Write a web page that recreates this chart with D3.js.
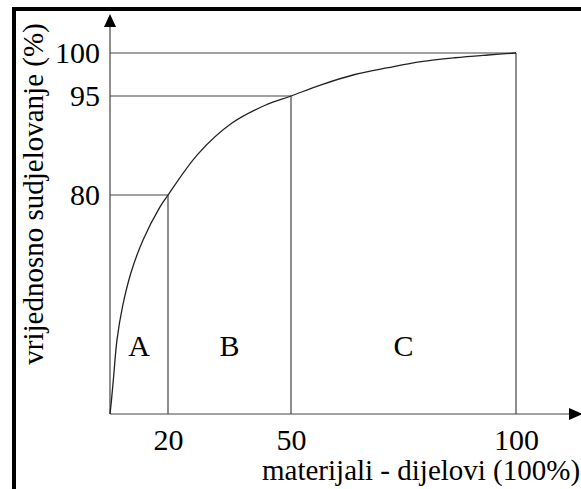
<!DOCTYPE html>
<html><head><meta charset="utf-8">
<script src="https://cdn.jsdelivr.net/npm/d3@7"></script>
<style>body{margin:0;background:#fff}svg{display:block}</style>
</head><body>
<svg id="c" width="581" height="489"></svg>
<script>
// Data
const xTicks = [20, 50, 100];
const yTicks = [80, 95, 100];
const thresholdX = [20, 50, 100];
const thresholdY = [80, 95, 100];
const regionLabels = ["A", "B", "C"];
const regionMid = [10, 35, 75];
const regionLabelY = 25;
const curveX = [0, 0.5, 1.2, 2.4, 4.3, 7.2, 11.4, 17.2, 20, 27.3, 35.6, 43.7, 50, 56.7, 64.2, 71.6, 78.9, 86.4, 93.8, 100];
const curveY = [0, 5.0, 13.0, 27.0, 39.1, 51.5, 63.6, 75.6, 80, 86.2, 90.9, 93.6, 95, 96.3, 97.5, 98.3, 99.0, 99.45, 99.77, 100];
const xTitle = "materijali - dijelovi (100%)";
const yTitle = "vrijednosno sudjelovanje (%)";

const svg = d3.select("#c");
const font = "Liberation Serif";
const lineCol = "#444";

const x = d3.scaleLinear().domain([0, 20, 50, 100]).range([110, 168, 291, 516]);
const y = d3.scaleLinear().domain([0, 80, 95, 100]).range([414, 195, 96, 53]);

// frame (top and left only)
svg.append("rect").attr("x", 12).attr("y", 7).attr("width", 569).attr("height", 4).attr("fill", "#000");
svg.append("rect").attr("x", 12).attr("y", 7).attr("width", 4).attr("height", 482).attr("fill", "#000");

// threshold lines
thresholdX.forEach((tx, i) => {
  const ty = thresholdY[i];
  svg.append("line").attr("x1", x(0)).attr("x2", x(tx)).attr("y1", y(ty)).attr("y2", y(ty))
    .attr("stroke", lineCol).attr("stroke-width", 1.2);
  svg.append("line").attr("x1", x(tx)).attr("x2", x(tx)).attr("y1", y(ty)).attr("y2", y(0))
    .attr("stroke", lineCol).attr("stroke-width", 1.2);
});

// axes lines with arrows
svg.append("line").attr("x1", x(0)).attr("x2", x(0)).attr("y1", y(0)).attr("y2", 24)
  .attr("stroke", lineCol).attr("stroke-width", 1.2);
svg.append("line").attr("x1", x(0)).attr("x2", 572).attr("y1", y(0)).attr("y2", y(0))
  .attr("stroke", lineCol).attr("stroke-width", 1.2);
svg.append("path").attr("d", `M${x(0)},14 L${x(0) - 6},27 L${x(0) + 6},27 Z`).attr("fill", "#000");
svg.append("path").attr("d", `M583,${y(0)} L569,${y(0) - 6} L569,${y(0) + 6} Z`).attr("fill", "#000");

// curve
const pts = curveX.map((v, i) => [v, curveY[i]]);
svg.append("path").datum(pts)
  .attr("d", d3.line().x(d => x(d[0])).y(d => y(d[1])).curve(d3.curveCatmullRom.alpha(0.5)))
  .attr("fill", "none").attr("stroke", "#222").attr("stroke-width", 1.3);

// axes tick labels
const ax = svg.append("g").attr("transform", `translate(0,${y(0)})`)
  .call(d3.axisBottom(x).tickValues(xTicks).tickSize(0).tickPadding(15));
const ay = svg.append("g").attr("transform", `translate(${x(0)},0)`)
  .call(d3.axisLeft(y).tickValues(yTicks).tickSize(0).tickPadding(10));
[ax, ay].forEach(g => {
  g.attr("font-family", null).attr("font-size", null);
  g.select(".domain").remove();
  g.selectAll("text").style("font-family", font).style("font-size", "30px").attr("fill", "#000");
});

// region labels
svg.selectAll(".reg").data(regionLabels).enter().append("text")
  .attr("x", (d, i) => x(regionMid[i])).attr("y", y(regionLabelY)).attr("dy", "0.35em")
  .attr("text-anchor", "middle").style("font-family", font).style("font-size", "30px").attr("fill", "#000")
  .text(d => d);

// titles
svg.append("text").attr("x", 262).attr("y", 480).style("font-family", font).style("font-size", "29px")
  .attr("fill", "#000").text(xTitle);
svg.append("text").attr("transform", "translate(43,194) rotate(-90)").attr("text-anchor", "middle")
  .style("font-family", font).style("font-size", "29px").attr("fill", "#000").text(yTitle);
</script>
</body></html>
